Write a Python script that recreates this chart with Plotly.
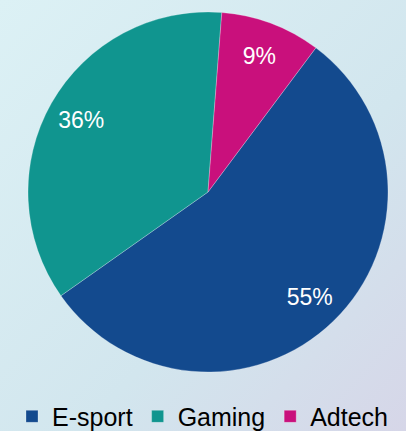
import plotly.graph_objects as go

labels = ["E-sport", "Gaming", "Adtech"]
values = [55, 36, 9]
colors = ["#134A8E", "#10958F", "#C9107C"]

W, H = 406, 431
dom = dict(x=[28 / W, 388 / W], y=[1 - 372 / H, 1 - 12 / H])

bg_svg = (
    "data:image/svg+xml;utf8,"
    "<svg xmlns='http://www.w3.org/2000/svg' width='406' height='431'>"
    "<defs><linearGradient id='g' x1='0' y1='0' x2='1' y2='1'>"
    "<stop offset='0' stop-color='%23DCF1F5'/>"
    "<stop offset='0.6' stop-color='%23D2E6EE'/>"
    "<stop offset='1' stop-color='%23D6D6E8'/>"
    "</linearGradient></defs>"
    "<rect width='406' height='431' fill='url(%23g)'/></svg>"
)

fig = go.Figure()
# coloured slices
fig.add_trace(
    go.Pie(
        labels=labels,
        values=values,
        marker=dict(colors=colors, line=dict(color="rgba(255,255,255,0.5)", width=0.5)),
        sort=False,
        direction="clockwise",
        rotation=36.8,
        textinfo="none",
        domain=dom,
        hoverinfo="label+percent",
    )
)
# transparent ring carrying the percentage labels further out
fig.add_trace(
    go.Pie(
        labels=labels,
        values=values,
        hole=0.62,
        marker=dict(colors=["rgba(0,0,0,0)"] * 3, line=dict(width=0)),
        sort=False,
        direction="clockwise",
        rotation=36.8,
        texttemplate="%{percent:.0%}",
        textposition="inside",
        insidetextorientation="horizontal",
        textfont=dict(color="white", size=23, family="Liberation Sans"),
        domain=dom,
        showlegend=False,
        hoverinfo="skip",
    )
)

fig.update_layout(
    width=W,
    height=H,
    margin=dict(l=0, r=0, t=0, b=0, autoexpand=False),
    paper_bgcolor="#D6EAF0",
    plot_bgcolor="rgba(0,0,0,0)",
    showlegend=True,
    legend=dict(
        orientation="h",
        x=0.5,
        xanchor="center",
        y=-0.02,
        yanchor="bottom",
        font=dict(size=25, color="black", family="Liberation Sans"),
        itemwidth=30,
        bgcolor="rgba(0,0,0,0)",
    ),
    images=[
        dict(
            source=bg_svg,
            xref="paper",
            yref="paper",
            x=0,
            y=1,
            sizex=1,
            sizey=1,
            sizing="stretch",
            layer="below",
            xanchor="left",
            yanchor="top",
        )
    ],
)

fig.write_html("out.html")
